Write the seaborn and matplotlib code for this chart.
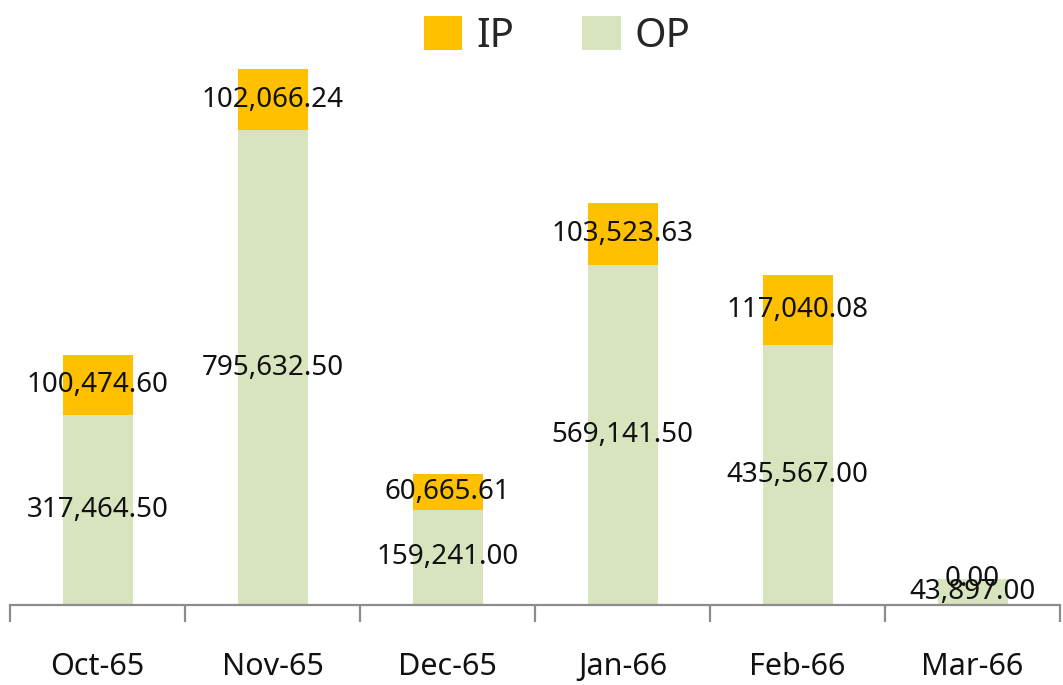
import matplotlib
matplotlib.use("Agg")
import matplotlib.pyplot as plt
import seaborn as sns
import pandas as pd
import numpy as np
from matplotlib.patches import Patch

months = ["Oct-65", "Nov-65", "Dec-65", "Jan-66", "Feb-66", "Mar-66"]
op_values = [317464.50, 795632.50, 159241.00, 569141.50, 435567.00, 43897.00]
ip_values = [100474.60, 102066.24, 60665.61, 103523.63, 117040.08, 0.00]

IP_COLOR = "#FFC000"
OP_COLOR = "#D7E4BD"

sns.set_theme(style="white")
plt.rcParams["font.family"] = ["Noto Sans", "DejaVu Sans"]

df = pd.DataFrame({"month": months, "OP": op_values, "IP": ip_values})
df["total"] = df["OP"] + df["IP"]

fig = plt.figure(figsize=(10.63, 6.85), dpi=100)
ax = fig.add_axes([10/1063, 1 - 605/685, 1050/1063, 597/685])

sns.barplot(data=df, x="month", y="total", color=IP_COLOR, saturation=1,
            width=0.4, ax=ax, linewidth=0)
sns.barplot(data=df, x="month", y="OP", color=OP_COLOR, saturation=1,
            width=0.4, ax=ax, linewidth=0)

ax.set_ylim(0, 1000000)
ax.set_xlim(-0.5, len(months) - 0.5)

for i, (op, ip) in enumerate(zip(op_values, ip_values)):
    ax.text(i, op / 2, f"{op:,.2f}", ha="center", va="center", fontsize=20, color="#111111")
    ax.text(i, op + ip / 2, f"{ip:,.2f}", ha="center", va="center", fontsize=20, color="#111111")

for s in ["top", "right", "left"]:
    ax.spines[s].set_visible(False)
ax.spines["bottom"].set_color("#8C8C8C")
ax.spines["bottom"].set_linewidth(1.6)
ax.set_yticks([])
ax.set_xlabel("")
ax.set_ylabel("")
ax.set_xticks(range(len(months)))
ax.set_xticklabels(months, fontsize=22, color="#111111")
ax.tick_params(axis="x", which="major", length=0, pad=34, bottom=True)
ax.set_xticks(np.arange(-0.5, len(months), 1.0), minor=True)
ax.tick_params(axis="x", which="minor", length=12, width=1.6, color="#8C8C8C",
               direction="out", bottom=True)

handles = [Patch(facecolor=IP_COLOR, edgecolor="none", label="IP"),
           Patch(facecolor=OP_COLOR, edgecolor="none", label="OP")]
fig.legend(handles=handles, loc="upper center", bbox_to_anchor=(0.524, 1.03), ncol=2,
           frameon=False, fontsize=29, handlelength=0.95, handleheight=0.95,
           handletextpad=0.35, columnspacing=1.7)

fig.savefig("out.png", dpi=100)
